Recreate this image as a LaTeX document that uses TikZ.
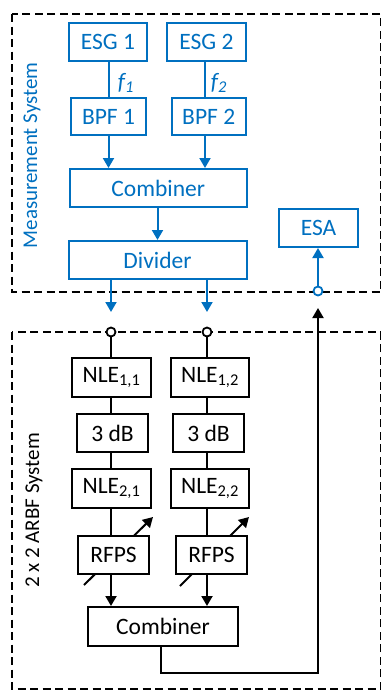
\documentclass[tikz,border=0pt]{standalone}
\usepackage{fontspec}
\setmainfont{Carlito}
\usetikzlibrary{arrows.meta,backgrounds}
\definecolor{mblue}{RGB}{0,112,192}
\begin{document}
\begin{tikzpicture}[x=1pt,y=-1pt,
  box/.style={draw,line width=2pt,fill=white,inner sep=0pt,font=\fontsize{23.5}{28}\selectfont},
  bbox/.style={box,draw=mblue,text=mblue},
  kbox/.style={box,draw=black,text=black},
  conn/.style={line width=2pt},
  arr/.style={conn,-{Triangle[length=10pt,width=11pt]}},
  dbox/.style={dash pattern=on 8pt off 4.5pt,line width=1.8pt},
  port/.style={circle,draw,line width=1.8pt,fill=white,inner sep=0pt,minimum size=9pt},
  lab/.style={rotate=90,font=\fontsize{21}{25}\selectfont},
]
\useasboundingbox (0,0) rectangle (382,691);
% dashed system boxes
\draw[dbox] (12,14) rectangle (380.5,292);
\draw[dbox] (12,332) rectangle (380.5,689);
% labels
\node[lab,text=mblue] (lab1) at (32,155.5) {Measurement System};
\node[lab] (lab2) at (34,510.5) {2 x 2 ARBF System};
% measurement system
\node[bbox,minimum width=78pt,minimum height=38pt] (esg1) at (108,42) {ESG 1};
\node[bbox,minimum width=79pt,minimum height=38pt] (esg2) at (206.5,42) {ESG 2};
\node[bbox,minimum width=75pt,minimum height=37pt] (bpf1) at (108.5,116.7) {BPF 1};
\node[bbox,minimum width=74pt,minimum height=37pt] (bpf2) at (208.7,116.7) {BPF 2};
\node[bbox,minimum width=177pt,minimum height=38pt] (comb) at (158.3,188) {Combiner};
\node[bbox,minimum width=178pt,minimum height=38pt] (div) at (157.5,260) {Divider};
\node[bbox,minimum width=79pt,minimum height=38pt] (esa) at (318.5,228) {ESA};
\node[text=mblue,font=\fontsize{23.5}{28}\selectfont\itshape] (f1) at (126,83) {f\textsubscript{1}};
\node[text=mblue,font=\fontsize{23.5}{28}\selectfont\itshape] (f2) at (219,83) {f\textsubscript{2}};
\coordinate (c1) at (108.5,0);
\coordinate (c2) at (205,0);
\draw[conn,mblue] (esg1.south -| c1) -- (bpf1.north -| c1);
\draw[conn,mblue] (esg2.south -| c2) -- (bpf2.north -| c2);
\draw[arr,mblue] (bpf1.south -| c1) -- (comb.north -| c1);
\draw[arr,mblue] (bpf2.south -| c2) -- (comb.north -| c2);
\draw[arr,mblue] (comb.south -| div.north) -- (div.north);
% ports
\node[port,draw=black] (p1) at (111,332) {};
\node[port,draw=black] (p2) at (207,332) {};
\node[port,draw=mblue] (p3) at (318,291) {};
\coordinate (a1) at (111,312);
\coordinate (a2) at (207,312);
\draw[arr,mblue] (div.south -| a1) -- (a1);
\draw[arr,mblue] (div.south -| a2) -- (a2);
\draw[arr,mblue] (p3) -- (esa.south -| p3);
% ARBF system
\node[kbox,minimum width=79pt,minimum height=39pt] (nle11) at (111.5,377.5) {NLE\textsubscript{1,1}};
\node[kbox,minimum width=78pt,minimum height=39pt] (nle12) at (210,377.5) {NLE\textsubscript{1,2}};
\node[kbox,minimum width=71pt,minimum height=38pt] (db1) at (112.5,433) {3 dB};
\node[kbox,minimum width=71pt,minimum height=38pt] (db2) at (208.5,433) {3 dB};
\node[kbox,minimum width=79pt,minimum height=39pt] (nle21) at (111.5,488.5) {NLE\textsubscript{2,1}};
\node[kbox,minimum width=78pt,minimum height=39pt] (nle22) at (210,488.5) {NLE\textsubscript{2,2}};
\node[kbox,minimum width=71pt,minimum height=38pt] (rf1) at (113.5,555) {RFPS};
\node[kbox,minimum width=71pt,minimum height=38pt] (rf2) at (211.5,555) {RFPS};
\node[kbox,minimum width=150pt,minimum height=39pt] (comb2) at (163,626.5) {Combiner};
\draw[conn] (p1) -- (nle11.north -| p1);
\draw[conn] (p2) -- (nle12.north -| p2);
\draw[conn] (nle11.south -| p1) -- (db1.north -| p1);
\draw[conn] (nle12.south -| p2) -- (db2.north -| p2);
\draw[conn] (db1.south -| p1) -- (nle21.north -| p1);
\draw[conn] (db2.south -| p2) -- (nle22.north -| p2);
\draw[conn] (nle21.south -| p1) -- (rf1.north -| p1);
\draw[conn] (nle22.south -| p2) -- (rf2.north -| p2);
\draw[arr] (rf1.south -| p1) -- (comb2.north -| p1);
\draw[arr] (rf2.south -| p2) -- (comb2.north -| p2);
\coordinate (o1) at (161,673);
\coordinate (o2) at (318,673);
\coordinate (o3) at (318,308);
\draw[arr] (comb2.south -| o1) -- (o1) -- (o2) -- (o3);
% tunable phase shifter arrows
\coordinate (t1a) at (84,585);
\coordinate (t1b) at (153,517);
\coordinate (t2a) at (180,586);
\coordinate (t2b) at (249,517);
\begin{scope}[on background layer]
\draw[arr] (t1a) -- (t1b);
\draw[arr] (t2a) -- (t2b);
\end{scope}
\end{tikzpicture}
\end{document}
